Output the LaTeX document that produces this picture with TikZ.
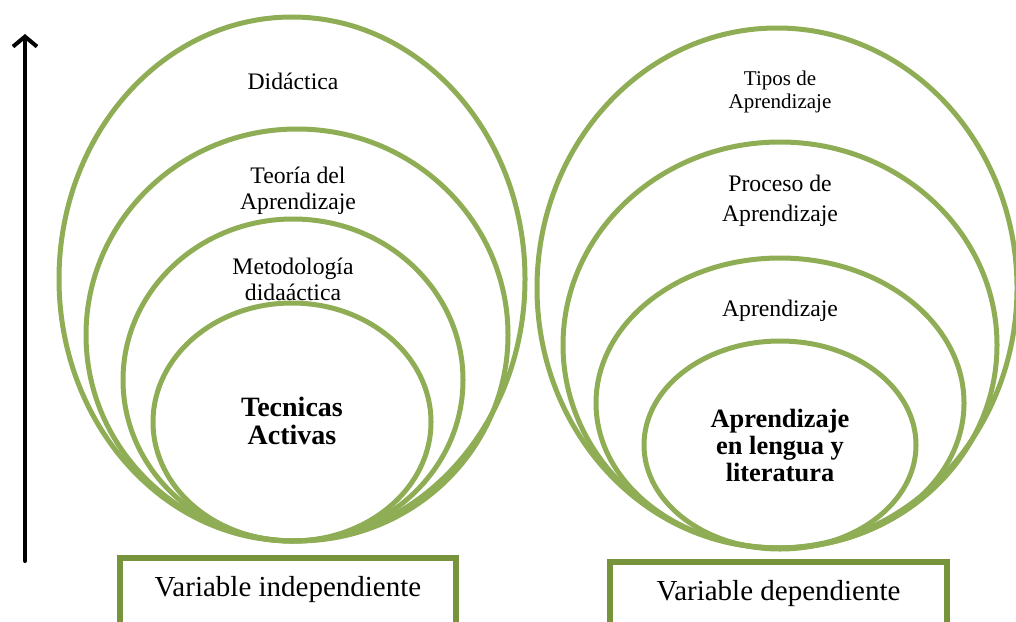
\documentclass[tikz,border=0pt]{standalone}
\usepackage{fontspec}
\setmainfont{Liberation Serif}
\usetikzlibrary{arrows.meta,shapes.geometric}
\definecolor{olivering}{HTML}{8FAD55}
\definecolor{olivebox}{HTML}{77933C}
\begin{document}
\begin{tikzpicture}
[x=1pt,y=-1pt,%
  ringdecorate/.style={shape=ellipse,draw=olivering,line width=5pt,inner sep=0pt},%
  boxdecorate/.style={shape=rectangle,draw=olivebox,line width=6pt,fill=white},%
  labeldecorate/.style={align=center,inner sep=0pt,font=\fontsize{23.7}{26}\selectfont},%
  arrowdecorate/.style={-{Straight Barb[length=10pt,width=24pt]},line width=4pt,line cap=round}]
\useasboundingbox (0,0) rectangle (1016,621);
%% rings, outer ones first
\foreach \ringname/\x/\y/\rx/\ry in {
  didactica/292/279/233/262, teoria/297/335/211/206,
  metodologia/293/380/170/161, tecnicas/292/422/139/119,
  tipos/777/288/240/260, proceso/780/345/217/203,
  aprendizaje/780/403/184/145, lengua/780/445/136/104} {
  \node (\ringname) at (\x,\y) [ringdecorate,minimum width=2*\rx pt,minimum height=2*\ry pt] {};
}
%% texts of the rings
\node (didacticatext) at (293,81) [labeldecorate] {Didáctica};
\node (teoriatext) at (298,191) [labeldecorate] {Teoría del\\Aprendizaje};
\node (metodologiatext) at (293,279) [labeldecorate] {Metodología\\didaáctica};
\node (tecnicastext) at (292,421) [labeldecorate,font=\fontsize{28}{28}\selectfont\bfseries] {Tecnicas\\Activas};
\node (tipostext) at (780,92) [labeldecorate,font=\fontsize{21}{23}\selectfont] {Tipos de\\Aprendizaje};
\node (procesotext) at (780,201) [labeldecorate,font=\fontsize{23.7}{30}\selectfont] {Proceso de\\Aprendizaje};
\node (aprendizajetext) at (780,311) [labeldecorate] {Aprendizaje};
\node (lenguatext) at (780,445) [labeldecorate,font=\fontsize{26.4}{27}\selectfont\bfseries] {Aprendizaje\\en lengua y\\literatura};
%% boxes at the foot
\node (indepbox) at (288,600) [boxdecorate,minimum width=336pt,minimum height=84pt] {};
\node (indeptext) at (288,590) [labeldecorate,font=\fontsize{29}{32}\selectfont] {Variable independiente};
\node (depbox) at (778.5,604) [boxdecorate,minimum width=337pt,minimum height=84pt] {};
\node (deptext) at (778.5,594) [labeldecorate,font=\fontsize{29}{32}\selectfont] {Variable dependiente};
%% arrow on the left
\coordinate (arrowfoot) at (25,561);
\coordinate (arrowtip) at (25,34);
\draw[arrowdecorate] (arrowfoot) -- (arrowtip);
\end{tikzpicture}
\end{document}
